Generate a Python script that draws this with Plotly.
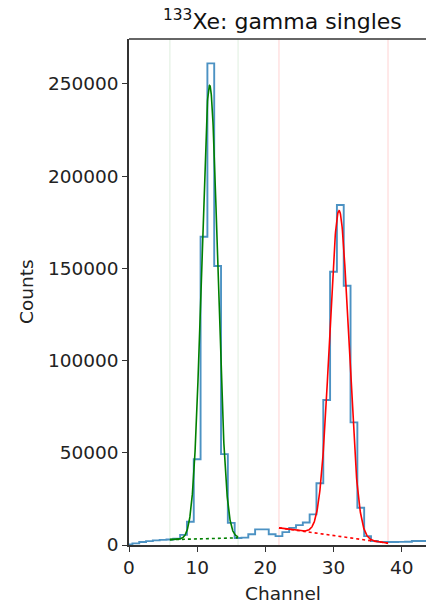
import numpy as np
import plotly.graph_objects as go

# Gamma-singles spectrum of Xe-133, one count per channel
channels = list(range(0, 45))
counts = [
    300, 900, 1600, 2100, 2500, 2800, 3000, 3400, 5500, 12600,
    46500, 167200, 261200, 151300, 49300, 12000, 3800, 4000, 5800, 8500,
    8500, 5800, 4800, 7000, 9300, 10800, 12200, 16600, 33500, 78600,
    148200, 184400, 140600, 66500, 20200, 4800, 2200, 1700, 1600, 1600,
    1700, 1800, 2200, 2200, 2200,
]

# Fit windows (channel ranges) for the two photopeaks
low_window = [6, 16]
high_window = [22, 38]

# Gaussian + linear background fit results
low_fit = {"amp": 245800, "mu": 11.83, "sigma": 1.18, "bg_start": 2900, "bg_end": 3900}
high_fit = {"amp": 176600, "mu": 30.82, "sigma": 1.40, "bg_start": 9300, "bg_end": 1000}

x_ticks = [0, 10, 20, 30, 40]
y_ticks = [0, 50000, 100000, 150000, 200000, 250000]

FONT = "DejaVu Sans"


def background(fit, window, x):
    x0, x1 = window
    return fit["bg_start"] + (fit["bg_end"] - fit["bg_start"]) * (x - x0) / (x1 - x0)


def model(fit, window, x):
    g = fit["amp"] * np.exp(-0.5 * ((x - fit["mu"]) / fit["sigma"]) ** 2)
    return g + background(fit, window, x)


fig = go.Figure()

# window markers
for xv in low_window:
    fig.add_shape(type="line", xref="x", yref="paper", x0=xv, x1=xv, y0=0, y1=1,
                  line=dict(color="rgba(0,128,0,0.13)", width=1), layer="below")
for xv in high_window:
    fig.add_shape(type="line", xref="x", yref="paper", x0=xv, x1=xv, y0=0, y1=1,
                  line=dict(color="rgba(255,0,0,0.18)", width=1), layer="below")

# step histogram
fig.add_trace(go.Scatter(
    x=channels, y=counts, mode="lines", line_shape="hvh",
    line=dict(color="rgba(31,119,180,0.8)", width=1.9), hoverinfo="skip",
))

# fitted curves and their backgrounds
for fit, window, color in [(low_fit, low_window, "green"), (high_fit, high_window, "red")]:
    xs = np.linspace(window[0], window[1], 400)
    fig.add_trace(go.Scatter(
        x=window, y=[background(fit, window, w) for w in window], mode="lines",
        line=dict(color=color, width=1.6, dash="dot"), hoverinfo="skip",
    ))
    fig.add_trace(go.Scatter(
        x=xs, y=model(fit, window, xs), mode="lines",
        line=dict(color=color, width=1.6), hoverinfo="skip",
    ))

axis_common = dict(
    showgrid=False, zeroline=False, showline=True, linecolor="#333333", linewidth=1.5,
    ticks="outside", ticklen=5, tickwidth=1.2, tickcolor="#333333",
    tickfont=dict(family=FONT, size=18.5, color="#222222"),
)

fig.update_layout(
    width=426, height=603,
    margin=dict(l=129, r=0, t=39, b=58),
    paper_bgcolor="white", plot_bgcolor="white",
    showlegend=False,
    xaxis=dict(range=[0, 43.57], tickvals=x_ticks, **axis_common),
    yaxis=dict(range=[0, 274400], tickvals=y_ticks, tickformat="d", **axis_common),
    shapes=list(fig.layout.shapes) + [
        dict(type="line", xref="paper", yref="paper", x0=0, x1=1, y0=1, y1=1,
             line=dict(color="#333333", width=1.5)),
    ],
    annotations=[
        dict(text="<sup>133</sup>Xe: gamma singles", xref="paper", yref="paper",
             x=0.517, y=1, yanchor="bottom", xanchor="center", yshift=3, showarrow=False,
             font=dict(family=FONT, size=22, color="#111111")),
        dict(text="Channel", xref="paper", yref="paper", x=0.52, y=0, yshift=-48,
             xanchor="center", yanchor="middle", showarrow=False,
             font=dict(family=FONT, size=18.5, color="#222222")),
        dict(text="Counts", xref="paper", yref="paper", x=0, y=0.5, xshift=-103,
             xanchor="center", yanchor="middle", textangle=-90, showarrow=False,
             font=dict(family=FONT, size=18.5, color="#222222")),
    ],
)

fig.write_html("out.html")
